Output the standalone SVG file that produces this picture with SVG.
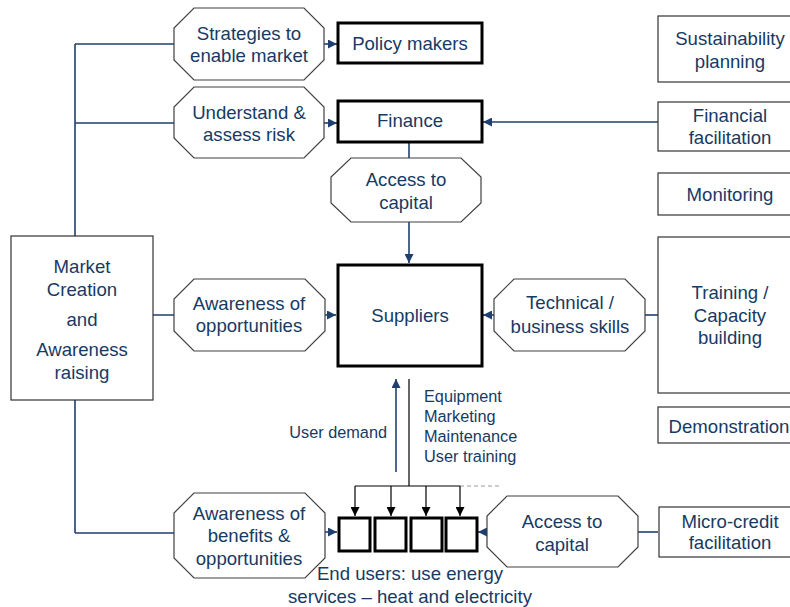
<svg xmlns="http://www.w3.org/2000/svg" width="790" height="607" viewBox="0 0 790 607">
<style>
text{font-family:"Liberation Sans",Arial,sans-serif;font-size:18.6px;fill:#173A64;text-anchor:middle}
.sm{font-size:16.3px}
.oct{fill:#fff;stroke:#404040;stroke-width:1.2}
.box{fill:#fff;stroke:#333;stroke-width:1.2}
.thick{fill:#fff;stroke:#000;stroke-width:3}
.ln{fill:none;stroke:#1F3F6F;stroke-width:1.6}
.bk{fill:none;stroke:#000;stroke-width:1.2}
</style>
<defs>
<marker id="ah" viewBox="0 0 10 10" refX="10" refY="5" markerWidth="9" markerHeight="9" markerUnits="userSpaceOnUse" orient="auto"><path d="M0,0L10,5L0,10z" fill="#1F3F6F"/></marker>
<marker id="ahk" viewBox="0 0 10 10" refX="10" refY="5" markerWidth="9" markerHeight="9" markerUnits="userSpaceOnUse" orient="auto"><path d="M0,0L10,5L0,10z" fill="#000"/></marker>
</defs>
<g id="connectors">
<path class="ln" d="M75,44V236M75,400V533M75,44H174M75,123H174M153,315H174M75,533H174"/>
<path class="ln" d="M324,44H337" marker-end="url(#ah)"/>
<path class="ln" d="M324,123H337" marker-end="url(#ah)"/>
<path class="ln" d="M658,122H483" marker-end="url(#ah)"/>
<path class="ln" d="M409,142V158"/>
<path class="ln" d="M409,222V263" marker-end="url(#ah)"/>
<path class="ln" d="M325,315H336" marker-end="url(#ah)"/>
<path class="ln" d="M494,315H483" marker-end="url(#ah)"/>
<path class="ln" d="M645,315H658"/>
<path class="ln" d="M396,472V379" marker-end="url(#ah)"/>
<path class="bk" d="M409,379V486M355,486H460"/>
<path d="M460,486H502" fill="none" stroke="#999" stroke-width="1.2" stroke-dasharray="4,3"/>
<path class="bk" d="M355,486V516" marker-end="url(#ahk)"/>
<path class="bk" d="M391,486V516" marker-end="url(#ahk)"/>
<path class="bk" d="M426,486V516" marker-end="url(#ahk)"/>
<path class="bk" d="M460,486V516" marker-end="url(#ahk)"/>
<path class="ln" d="M325,532H337" marker-end="url(#ah)"/>
<path class="ln" d="M487,532H478" marker-end="url(#ah)"/>
<path class="ln" d="M638,532H658"/>
</g>
<g id="strategies"><path class="oct" d="M194,8H304L324,28V60L304,80H194L174,60V28Z"/><text x="249" y="40">Strategies to</text><text x="249" y="62">enable market</text></g>
<g id="policy"><rect class="thick" x="338" y="23" width="144" height="40"/><text x="410" y="50">Policy makers</text></g>
<g id="understand"><path class="oct" d="M194,87H304L324,107V138L304,158H194L174,138V107Z"/><text x="249" y="119">Understand &amp;</text><text x="249" y="141">assess risk</text></g>
<g id="finance"><rect class="thick" x="338" y="101" width="144" height="41"/><text x="410" y="127">Finance</text></g>
<g id="access-top"><path class="oct" d="M351,158H461L481,177V203L461,222H351L331,203V177Z"/><text x="406" y="186">Access to</text><text x="406" y="209">capital</text></g>
<g id="market"><rect class="box" x="11" y="236" width="142" height="164"/><text x="82" y="273">Market</text><text x="82" y="296">Creation</text><text x="82" y="326">and</text><text x="82" y="356">Awareness</text><text x="82" y="379">raising</text></g>
<g id="aware-opp"><path class="oct" d="M194,279H305L325,299V331L305,351H194L174,331V299Z"/><text x="249" y="310">Awareness of</text><text x="249" y="332">opportunities</text></g>
<g id="suppliers"><rect class="thick" x="338" y="265" width="144" height="101"/><text x="410" y="322">Suppliers</text></g>
<g id="technical"><path class="oct" d="M514,279H625L645,299V331L625,351H514L494,331V299Z"/><text x="570" y="309">Technical /</text><text x="570" y="333">business skills</text></g>
<g id="sustain"><rect class="box" x="658" y="16" width="144" height="66"/><text x="730" y="45">Sustainability</text><text x="730" y="68">planning</text></g>
<g id="finfac"><rect class="box" x="658" y="102" width="144" height="49"/><text x="730" y="122">Financial</text><text x="730" y="144">facilitation</text></g>
<g id="monitoring"><rect class="box" x="658" y="173" width="144" height="42"/><text x="730" y="201">Monitoring</text></g>
<g id="training"><rect class="box" x="658" y="237" width="144" height="156"/><text x="730" y="299">Training /</text><text x="730" y="322">Capacity</text><text x="730" y="344">building</text></g>
<g id="demo"><rect class="box" x="658" y="407" width="144" height="36"/><text x="729" y="433">Demonstration</text></g>
<g id="labels"><text class="sm" x="387" y="438" style="text-anchor:end">User demand</text><text class="sm" x="424" y="402" style="text-anchor:start">Equipment</text><text class="sm" x="424" y="422" style="text-anchor:start">Marketing</text><text class="sm" x="424" y="442" style="text-anchor:start">Maintenance</text><text class="sm" x="424" y="462" style="text-anchor:start">User training</text></g>
<g id="aware-ben"><path class="oct" d="M194,493H305L325,513V558L305,578H194L174,558V513Z"/><text x="249" y="520">Awareness of</text><text x="249" y="542">benefits &amp;</text><text x="249" y="565">opportunities</text></g>
<g id="endusers"><rect class="thick" x="339" y="518" width="31" height="33"/><rect class="thick" x="375" y="518" width="31" height="33"/><rect class="thick" x="411" y="518" width="31" height="33"/><rect class="thick" x="446" y="518" width="31" height="33"/><text x="410" y="580">End users: use energy</text><text x="410" y="603">services – heat and electricity</text></g>
<g id="access-bot"><path class="oct" d="M507,496H618L638,516V547L618,567H507L487,547V516Z"/><text x="562" y="528">Access to</text><text x="562" y="551">capital</text></g>
<g id="microcredit"><rect class="box" x="659" y="507" width="144" height="50"/><text x="730" y="528">Micro-credit</text><text x="730" y="549">facilitation</text></g>
</svg>
